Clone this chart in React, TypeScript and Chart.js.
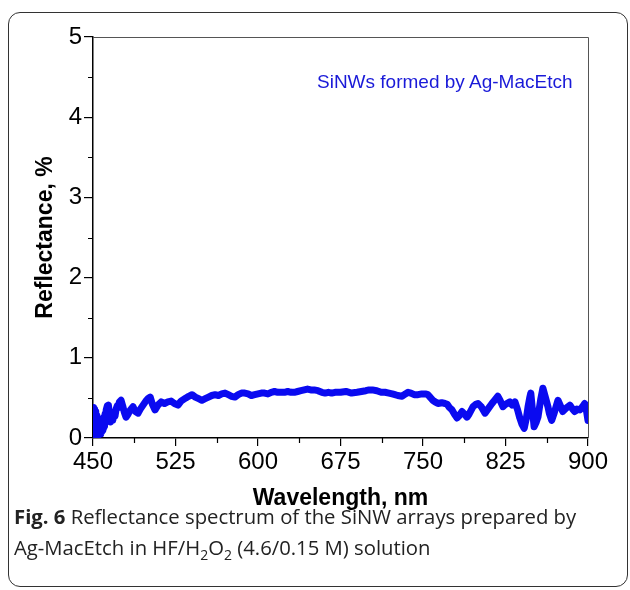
import React, { useEffect, useRef } from "react";
import { Chart, registerables } from "chart.js";

Chart.register(...registerables);

const wavelength = [
  450, 450.5, 451, 451.5, 452, 452.5, 453, 453.5, 454, 454.5, 455, 455.5, 456, 456.5, 457, 457.5, 458, 458.5, 459, 459.5,
  460, 460.5, 461, 461.5, 462, 463, 464, 465, 466, 467, 468, 469, 470, 471, 472, 473, 474, 475.5, 477, 478.5,
  480, 482, 484, 486.4, 488.5, 491, 493, 495.5, 498, 500, 502, 504, 506.4, 509,
  512, 515, 518, 521, 524, 527.3, 530, 534.5, 537, 540, 543, 546, 549, 552, 555, 558, 561, 564, 567, 570,
  573, 576, 579, 582, 585, 588, 591, 594, 597, 600, 603, 606, 609, 612, 615, 618, 621, 624, 627, 630,
  633, 636, 639, 642, 645, 648, 651, 654.5, 658, 661, 664, 667, 670, 675, 680, 685, 690, 694, 698, 701,
  704, 708, 712, 715.5, 719, 722, 724.5, 727, 731, 734, 736.4, 739, 742, 745.5, 749, 752, 754.5, 757, 759, 761,
  763.6, 767, 770, 772, 774, 776.4, 778.5, 781, 783, 785.5, 787.5, 790, 792, 795.5, 798, 800, 803, 806.4, 809, 812.7,
  815, 818, 820, 822.7, 825, 829, 831, 833.6, 836, 838, 840, 842, 844, 845.5, 847, 848, 849.5, 851, 853, 854.5,
  857, 859, 861, 863.6, 865, 867, 869, 872.7, 875, 877, 880, 883.6, 886, 888, 890, 892.7, 895, 897, 898.5, 900
];

const reflectance = [
  0.38, 0.05, 0.36, 0.02, 0.33, 0.01, 0.28, 0.02, 0.25, 0.03, 0.22, 0.05, 0.20, 0.05, 0.20, 0.08, 0.22, 0.10, 0.24, 0.12,
  0.26, 0.15, 0.30, 0.20, 0.35, 0.40, 0.41, 0.30, 0.20, 0.28, 0.22, 0.32, 0.27, 0.36, 0.40, 0.38, 0.45, 0.47, 0.40, 0.32,
  0.26, 0.30, 0.35, 0.39, 0.33, 0.31, 0.36, 0.41, 0.46, 0.49, 0.51, 0.42, 0.35, 0.41,
  0.45, 0.43, 0.45, 0.46, 0.43, 0.41, 0.46, 0.50, 0.52, 0.54, 0.51, 0.49, 0.47, 0.49, 0.51, 0.53, 0.54, 0.53, 0.55, 0.56,
  0.54, 0.52, 0.51, 0.54, 0.56, 0.56, 0.55, 0.53, 0.54, 0.55, 0.56, 0.56, 0.55, 0.57, 0.58, 0.57, 0.57, 0.57, 0.58, 0.57,
  0.57, 0.58, 0.59, 0.60, 0.61, 0.60, 0.60, 0.59, 0.57, 0.56, 0.57, 0.56, 0.57, 0.57, 0.58, 0.56, 0.57, 0.58, 0.59, 0.60,
  0.60, 0.59, 0.57, 0.57, 0.56, 0.55, 0.54, 0.53, 0.52, 0.55, 0.57, 0.56, 0.54, 0.54, 0.55, 0.55, 0.54, 0.50, 0.47, 0.45,
  0.43, 0.44, 0.43, 0.42, 0.38, 0.35, 0.30, 0.25, 0.28, 0.33, 0.30, 0.26, 0.30, 0.39, 0.42, 0.43, 0.39, 0.31, 0.36, 0.43,
  0.47, 0.52, 0.47, 0.39, 0.42, 0.45, 0.41, 0.45, 0.35, 0.25, 0.17, 0.12, 0.25, 0.39, 0.50, 0.56, 0.35, 0.14, 0.20, 0.26,
  0.48, 0.62, 0.52, 0.39, 0.30, 0.22, 0.30, 0.47, 0.40, 0.33, 0.37, 0.41, 0.36, 0.33, 0.36, 0.35, 0.39, 0.43, 0.35, 0.22
];

const xTicks = [450, 525, 600, 675, 750, 825, 900];
const yTicks = [0, 1, 2, 3, 4, 5];

const seriesLabel = "SiNWs formed by Ag-MacEtch";
const xTitle = "Wavelength, nm";
const yTitle = "Reflectance, %";

const boxPlugin = {
  id: "boxAndMinor",
  afterDraw(chart: any) {
    const { ctx, chartArea } = chart;
    const xs = chart.scales.x;
    const ys = chart.scales.y;
    ctx.save();
    ctx.strokeStyle = "#555";
    ctx.lineWidth = 1;
    ctx.beginPath();
    ctx.moveTo(chartArea.left, chartArea.top + 0.5);
    ctx.lineTo(chartArea.right + 0.5, chartArea.top + 0.5);
    ctx.lineTo(chartArea.right + 0.5, chartArea.bottom);
    ctx.stroke();
    ctx.strokeStyle = "#000";
    ctx.lineWidth = 1.2;
    ctx.beginPath();
    for (let i = 0; i < yTicks.length - 1; i++) {
      const v = (yTicks[i] + yTicks[i + 1]) / 2;
      const py = Math.round(ys.getPixelForValue(v)) + 0.5;
      ctx.moveTo(chartArea.left - 5, py);
      ctx.lineTo(chartArea.left, py);
    }
    for (let i = 0; i < xTicks.length - 1; i++) {
      const v = (xTicks[i] + xTicks[i + 1]) / 2;
      const px = Math.round(xs.getPixelForValue(v)) + 0.5;
      ctx.moveTo(px, chartArea.bottom);
      ctx.lineTo(px, chartArea.bottom + 5);
    }
    ctx.stroke();
    ctx.restore();
  },
};

export default function App() {
  const ref = useRef<HTMLCanvasElement>(null);
  useEffect(() => {
    if (!ref.current) return;
    const chart = new Chart(ref.current, {
      type: "line",
      data: {
        datasets: [
          {
            label: seriesLabel,
            data: wavelength.map((w, i) => ({ x: w, y: reflectance[i] })),
            borderColor: "#0a0af0",
            backgroundColor: "#0a0af0",
            borderWidth: 7,
            pointRadius: 0,
            tension: 0,
            borderJoinStyle: "round",
            borderCapStyle: "round",
          },
        ],
      },
      options: {
        animation: false,
        responsive: false,
        devicePixelRatio: 1,
        layout: { padding: { left: 20, right: 42, top: 37, bottom: 0 } },
        plugins: { legend: { display: false }, tooltip: { enabled: false } },
        scales: {
          x: {
            type: "linear",
            min: 450,
            max: 900,
            afterBuildTicks: (s: any) => {
              s.ticks = xTicks.map((v) => ({ value: v }));
            },
            afterFit: (s: any) => {
              s.height = 74;
            },
            ticks: {
              color: "#000",
              font: { family: "Liberation Sans, Arial, sans-serif", size: 24 },
              padding: 2,
              maxRotation: 0,
              autoSkip: false,
            },
            grid: { drawOnChartArea: false, tickLength: 8, color: "#000", lineWidth: 1.2 },
            border: { color: "#000", width: 1.5 },
            title: {
              display: true,
              text: xTitle,
              color: "#000",
              font: { family: "Liberation Sans, Arial, sans-serif", size: 23, weight: "bold" },
              padding: { top: 0, bottom: 0 },
            },
          },
          y: {
            type: "linear",
            min: 0,
            max: 5,
            afterBuildTicks: (s: any) => {
              s.ticks = yTicks.map((v) => ({ value: v }));
            },
            afterFit: (s: any) => {
              s.width = 73;
            },
            ticks: {
              color: "#000",
              font: { family: "Liberation Sans, Arial, sans-serif", size: 24 },
              padding: 2,
              autoSkip: false,
            },
            grid: { drawOnChartArea: false, tickLength: 9, color: "#000", lineWidth: 1.2 },
            border: { color: "#000", width: 1.5 },
            title: {
              display: true,
              text: yTitle,
              color: "#000",
              font: { family: "Liberation Sans, Arial, sans-serif", size: 23, weight: "bold" },
              padding: { top: 12, bottom: 0 },
            },
          },
        },
      },
      plugins: [boxPlugin],
    } as any);
    return () => chart.destroy();
  }, []);

  return (
    <div
      style={{
        position: "fixed",
        left: 0,
        top: 0,
        width: 630,
        height: 590,
        background: "#fff",
        overflow: "hidden",
      }}
    >
      <div
        style={{
          position: "absolute",
          left: 8,
          top: 12,
          width: 620,
          height: 575,
          border: "1.5px solid #333",
          borderRadius: 12,
          boxSizing: "border-box",
        }}
      />
      <canvas
        ref={ref}
        width={630}
        height={512}
        style={{ position: "absolute", left: 0, top: 0, width: 630, height: 512 }}
      />
      <div
        style={{
          position: "absolute",
          left: 317,
          top: 71,
          fontFamily: "Liberation Sans, Arial, sans-serif",
          fontSize: 19,
          lineHeight: "22px",
          color: "#1a1ad8",
          whiteSpace: "nowrap",
        }}
      >
        {seriesLabel}
      </div>
      <div
        style={{
          position: "absolute",
          left: 14,
          top: 501,
          fontFamily: "'Open Sans', sans-serif",
          fontSize: 20.3,
          lineHeight: "31px",
          color: "#222",
          whiteSpace: "nowrap",
        }}
      >
        <div>
          <b>Fig. 6</b> Reflectance spectrum of the SiNW arrays prepared by
        </div>
        <div>
          Ag-MacEtch in HF/H<sub style={{ fontSize: 14, lineHeight: 0 }}>2</sub>O
          <sub style={{ fontSize: 14, lineHeight: 0 }}>2</sub> (4.6/0.15 M) solution
        </div>
      </div>
    </div>
  );
}
